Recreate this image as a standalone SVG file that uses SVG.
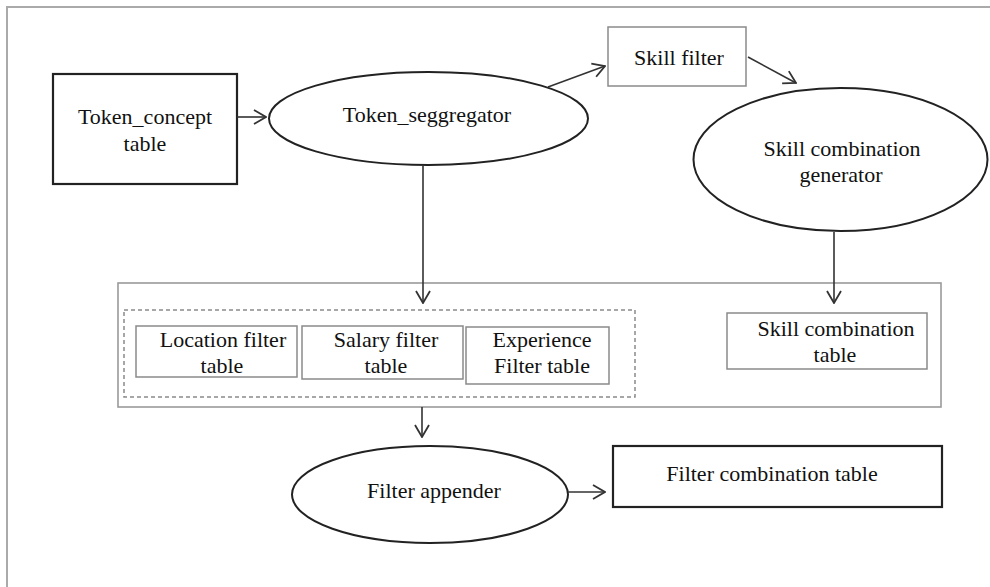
<svg xmlns="http://www.w3.org/2000/svg" width="990" height="587" viewBox="0 0 990 587">
<style>
  text { font-family: "Liberation Serif", "Times New Roman", serif; font-size: 22px; fill: #111; text-anchor: middle; }
  .ell { fill: #fff; stroke: #222; stroke-width: 2; }
  .box-dark { fill: #fff; stroke: #222; stroke-width: 2.2; }
  .box-light { fill: #fff; stroke: #8a8a8a; stroke-width: 1.5; }
  .container { fill: none; stroke: #9a9a9a; stroke-width: 1.6; }
  .dashed { fill: none; stroke: #8a8a8a; stroke-width: 1.5; stroke-dasharray: 4 3; }
  .conn { fill: none; stroke: #333; stroke-width: 1.6; marker-end: url(#arrow); }
  .frame { fill: none; stroke: #aaa; stroke-width: 2; }
</style>
<defs>
  <marker id="arrow" markerUnits="userSpaceOnUse" markerWidth="14" markerHeight="16" viewBox="0 0 14 16" refX="13" refY="8" orient="auto">
    <path d="M1,1 L13,8 L1,15" fill="none" stroke="#333" stroke-width="1.8"/>
  </marker>
</defs>
<rect width="990" height="587" fill="#fff"/>
<rect class="frame" x="7" y="7" width="1000" height="600"/>

<g id="container">
  <rect class="container" x="118" y="283" width="823" height="124"/>
  <rect class="dashed" x="124" y="310" width="511" height="87"/>
</g>

<g id="token_concept_table">
  <rect class="box-dark" x="53" y="74" width="184" height="110"/>
  <text x="145" y="124">Token_concept</text>
  <text x="145" y="151">table</text>
</g>

<g id="token_seggregator">
  <ellipse class="ell" cx="428.5" cy="118.5" rx="159.5" ry="46.5"/>
  <text x="427" y="122">Token_seggregator</text>
</g>

<g id="skill_filter">
  <rect class="box-light" x="608" y="27" width="138" height="59"/>
  <text x="679" y="65">Skill filter</text>
</g>

<g id="skill_combination_generator">
  <ellipse class="ell" cx="840.5" cy="159.5" rx="147" ry="71.5"/>
  <text x="842" y="156">Skill combination</text>
  <text x="841" y="182">generator</text>
</g>

<g id="location_filter_table">
  <rect class="box-light" x="136" y="326" width="161" height="51"/>
  <text x="223" y="347">Location filter</text>
  <text x="222" y="373">table</text>
</g>

<g id="salary_filter_table">
  <rect class="box-light" x="302" y="326" width="161" height="53"/>
  <text x="386" y="347">Salary filter</text>
  <text x="386" y="373">table</text>
</g>

<g id="experience_filter_table">
  <rect class="box-light" x="466" y="327" width="143" height="57"/>
  <text x="542" y="347">Experience</text>
  <text x="542" y="373">Filter table</text>
</g>

<g id="skill_combination_table">
  <rect class="box-light" x="727" y="313" width="200" height="56"/>
  <text x="836" y="336">Skill combination</text>
  <text x="835" y="362">table</text>
</g>

<g id="filter_appender">
  <ellipse class="ell" cx="430" cy="494.5" rx="138" ry="48.5"/>
  <text x="434" y="498">Filter appender</text>
</g>

<g id="filter_combination_table">
  <rect class="box-dark" x="613" y="446" width="329" height="61"/>
  <text x="772" y="481">Filter combination table</text>
</g>

<g id="connectors">
  <line class="conn" x1="237" y1="117" x2="266" y2="117"/>
  <line class="conn" x1="548" y1="87" x2="605" y2="66"/>
  <line class="conn" x1="748" y1="57" x2="796" y2="83"/>
  <line class="conn" x1="423" y1="165" x2="423" y2="303"/>
  <line class="conn" x1="834" y1="232" x2="834" y2="303"/>
  <line class="conn" x1="422" y1="407" x2="422" y2="437"/>
  <line class="conn" x1="568" y1="492" x2="605" y2="492"/>
</g>
</svg>
